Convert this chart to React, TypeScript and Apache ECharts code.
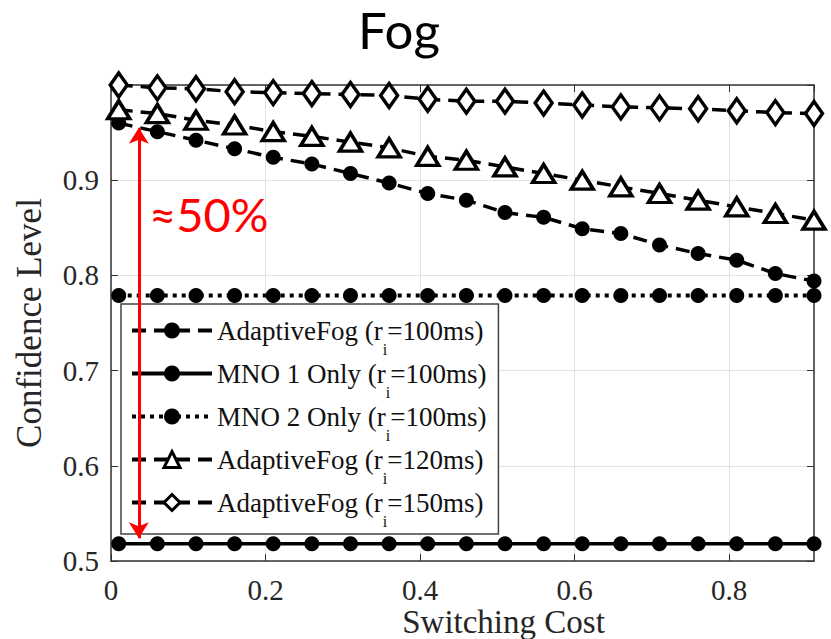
import React, { useEffect, useRef } from "react";
import * as echarts from "echarts";

const switchingCost = [0.01, 0.06, 0.11, 0.16, 0.21, 0.26, 0.31, 0.36, 0.41, 0.46, 0.51, 0.56, 0.61, 0.66, 0.71, 0.76, 0.81, 0.86, 0.91];
const adaptiveFog100 = [0.960, 0.951, 0.942, 0.933, 0.924, 0.917, 0.907, 0.897, 0.886, 0.879, 0.866, 0.861, 0.849, 0.844, 0.832, 0.823, 0.816, 0.802, 0.794];
const mno1Only100 = [0.518, 0.518, 0.518, 0.518, 0.518, 0.518, 0.518, 0.518, 0.518, 0.518, 0.518, 0.518, 0.518, 0.518, 0.518, 0.518, 0.518, 0.518, 0.518];
const mno2Only100 = [0.779, 0.779, 0.779, 0.779, 0.779, 0.779, 0.779, 0.779, 0.779, 0.779, 0.779, 0.779, 0.779, 0.779, 0.779, 0.779, 0.779, 0.779, 0.779];
const adaptiveFog120 = [0.974, 0.970, 0.963, 0.958, 0.951, 0.946, 0.940, 0.934, 0.925, 0.921, 0.914, 0.907, 0.900, 0.893, 0.886, 0.879, 0.872, 0.865, 0.858];
const adaptiveFog150 = [1.000, 0.997, 0.996, 0.993, 0.992, 0.991, 0.990, 0.989, 0.985, 0.983, 0.983, 0.981, 0.979, 0.977, 0.976, 0.975, 0.973, 0.971, 0.970];

const seriesNames = [
  "AdaptiveFog (r_i=100ms)",
  "MNO 1 Only (r_i=100ms)",
  "MNO 2 Only (r_i=100ms)",
  "AdaptiveFog (r_i=120ms)",
  "AdaptiveFog (r_i=150ms)",
];

const titleText = "Fog";
const xAxisName = "Switching Cost";
const yAxisName = "Confidence Level";
const annotationText = "≈50%";
const arrowX = 0.036;
const arrowTop = 0.955;
const arrowBottom = 0.524;

const SERIF = "'Liberation Serif', 'Times New Roman', serif";
const SANS = "Lato, 'Noto Sans', sans-serif";

function pairs(ys: number[]) {
  return ys.map((y, i) => [switchingCost[i], y]);
}

export default function App() {
  const ref = useRef<HTMLDivElement>(null);
  useEffect(() => {
    if (!ref.current) return;
    const chart = echarts.init(ref.current, null, { renderer: "svg" });
    const black = "#000";
    const dash = [14, 8];
    const dotted = [4, 5];
    const hollow = { color: "#fff", borderColor: black, borderWidth: 3.5 };
    const common = {
      type: "line",
      clip: false,
      silent: true,
      emphasis: { disabled: true },
      z: 3,
    };
    const tickLabel = { fontFamily: SERIF, fontSize: 29, color: "#262626" };
    const lineTypes = [dash, "solid", dotted, dash, dash];
    chart.setOption({
      animation: false,
      backgroundColor: "#fff",
      title: {
        text: titleText,
        left: 358,
        top: 4,
        padding: 0,
        textStyle: { fontFamily: SANS, fontSize: 51, lineHeight: 50, fontWeight: "normal", color: "#000" },
      },
      grid: { left: 111, top: 85, right: 17, bottom: 78, containLabel: false, outerBoundsMode: "none" },
      legend: {
        orient: "vertical",
        left: 121,
        top: 304,
        padding: [13, 12, 5, 9],
        itemWidth: 80,
        itemHeight: 20,
        itemGap: 3,
        backgroundColor: "#fff",
        borderColor: "#444",
        borderWidth: 1.5,
        borderRadius: 0,
        lineStyle: { width: 4 },
        data: seriesNames.map((name, i) => ({
          name,
          lineStyle: { width: 4, type: lineTypes[i], color: black },
          itemStyle: i >= 3 ? { color: "#fff", borderColor: black, borderWidth: 3 } : { color: black },
        })),
        formatter: (name: string) => name.replace("r_i", "r{s|i}"),
        textStyle: {
          fontFamily: SERIF,
          fontSize: 27,
          color: "#111",
          rich: {
            s: { fontFamily: SERIF, fontSize: 16, lineHeight: 16, color: "#111", verticalAlign: "top", padding: [24, 0, 0, 0] },
          },
        },
      },
      xAxis: [
        {
          type: "value",
          position: "bottom",
          min: 0,
          max: 0.91,
          interval: 0.2,
          axisLine: { show: true, onZero: false, lineStyle: { color: "#333", width: 1.5 } },
          axisTick: { show: true, inside: true, length: 7, lineStyle: { color: "#333", width: 1 } },
          axisLabel: {
            ...tickLabel,
            lineHeight: 26,
            margin: 16,
            showMaxLabel: false,
            formatter: (v: number) => (v === 0 ? "0" : v.toFixed(1)),
          },
          splitLine: { show: true, lineStyle: { color: "#e2e2e2", width: 1 } },
          name: xAxisName,
          nameLocation: "middle",
          nameGap: 46,
          nameMoveOverlap: false,
          nameTextStyle: { fontFamily: SERIF, fontSize: 33, lineHeight: 30, color: "#262626", padding: [0, 0, 0, 82] },
        },
        {
          type: "value",
          position: "top",
          min: 0,
          max: 0.91,
          interval: 0.2,
          axisLine: { show: true, onZero: false, lineStyle: { color: "#333", width: 1.5 } },
          axisTick: { show: true, inside: true, length: 7, lineStyle: { color: "#333", width: 1 } },
          axisLabel: { show: false },
          splitLine: { show: false },
        },
      ],
      yAxis: [
        {
          type: "value",
          position: "left",
          min: 0.5,
          max: 1.0,
          interval: 0.1,
          axisLine: { show: true, onZero: false, lineStyle: { color: "#333", width: 1.5 } },
          axisTick: { show: true, inside: true, length: 7, lineStyle: { color: "#333", width: 1 } },
          axisLabel: {
            ...tickLabel,
            margin: 12,
            showMaxLabel: false,
            formatter: (v: number) => v.toFixed(1),
          },
          splitLine: { show: true, lineStyle: { color: "#e2e2e2", width: 1 } },
          name: yAxisName,
          nameLocation: "middle",
          nameGap: 64,
          nameMoveOverlap: false,
          nameTextStyle: { fontFamily: SERIF, fontSize: 35, color: "#262626" },
        },
        {
          type: "value",
          position: "right",
          min: 0.5,
          max: 1.0,
          interval: 0.1,
          axisLine: { show: true, onZero: false, lineStyle: { color: "#333", width: 1.5 } },
          axisTick: { show: true, inside: true, length: 7, lineStyle: { color: "#333", width: 1 } },
          axisLabel: { show: false },
          splitLine: { show: false },
        },
      ],
      graphic: [
        {
          type: "text",
          left: 149,
          top: 190,
          z: 10,
          style: { text: annotationText, fontFamily: SANS, fontSize: 47, fill: "#ff0000" },
        },
      ],
      series: [
        {
          ...common,
          name: seriesNames[0],
          data: pairs(adaptiveFog100),
          symbol: "circle",
          symbolSize: 15,
          itemStyle: { color: black },
          lineStyle: { color: black, width: 3.5, type: dash },
        },
        {
          ...common,
          name: seriesNames[1],
          data: pairs(mno1Only100),
          symbol: "circle",
          symbolSize: 15,
          itemStyle: { color: black },
          lineStyle: { color: black, width: 3.5, type: "solid" },
          markLine: {
            silent: true,
            z: 10,
            symbol: ["arrow", "arrow"],
            symbolSize: [15, 16],
            label: { show: false },
            lineStyle: { color: "#ff0000", width: 3, type: "solid" },
            data: [[{ coord: [arrowX, arrowTop] }, { coord: [arrowX, arrowBottom] }]],
          },
        },
        {
          ...common,
          name: seriesNames[2],
          data: pairs(mno2Only100),
          symbol: "circle",
          symbolSize: 15,
          itemStyle: { color: black },
          lineStyle: { color: black, width: 4, type: dotted },
        },
        {
          ...common,
          name: seriesNames[3],
          data: pairs(adaptiveFog120),
          symbol: "triangle",
          symbolSize: [22, 18],
          itemStyle: hollow,
          lineStyle: { color: black, width: 3.5, type: dash },
        },
        {
          ...common,
          name: seriesNames[4],
          data: pairs(adaptiveFog150),
          symbol: "diamond",
          symbolSize: [17, 24],
          itemStyle: hollow,
          lineStyle: { color: black, width: 3.5, type: dash },
        },
      ],
    });
    return () => chart.dispose();
  }, []);
  return (
    <div
      ref={ref}
      style={{ position: "fixed", left: 0, top: 0, width: 831, height: 639, background: "#fff" }}
    />
  );
}
